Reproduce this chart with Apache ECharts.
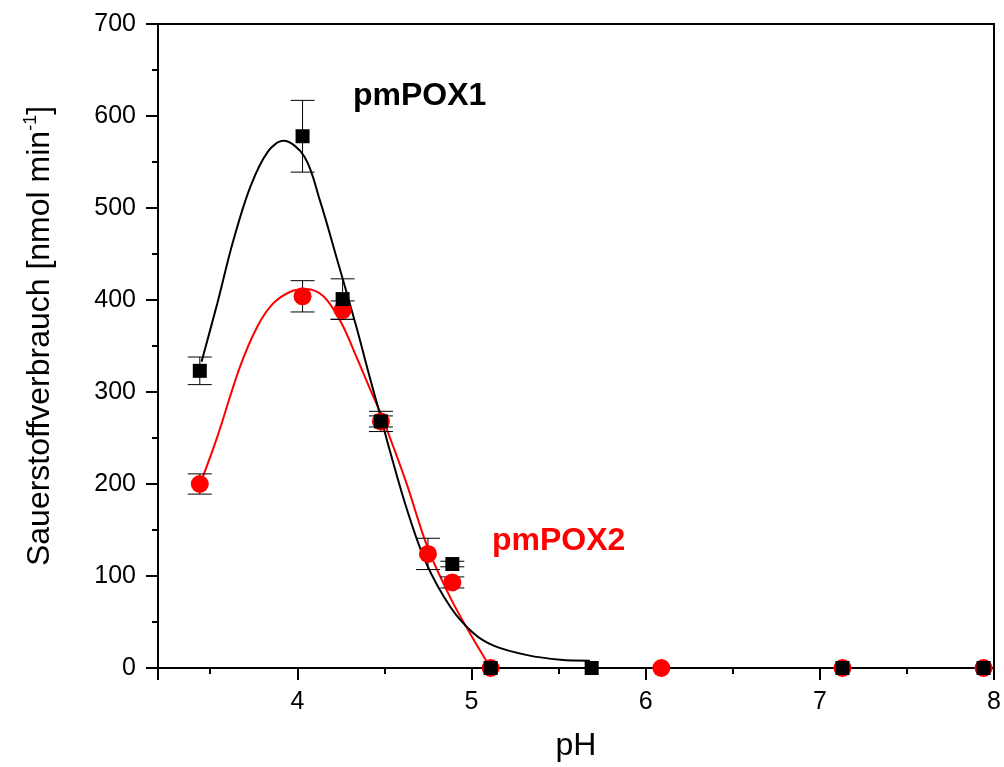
<!DOCTYPE html>
<html>
<head>
<meta charset="utf-8">
<title>pmPOX pH</title>
<script src="https://cdn.jsdelivr.net/npm/echarts@6/dist/echarts.min.js"></script>
<style>
  html, body { margin: 0; padding: 0; background: #fff; }
  #chart { width: 1004px; height: 767px; }
</style>
</head>
<body>
<div id="chart"></div>
<script>
// measured points (pH, Sauerstoffverbrauch, error)
const phPox1 = [3.44, 4.03, 4.26, 4.48, 4.89, 5.11, 5.69, 7.13, 7.94]
const o2Pox1 = [323, 578, 401, 268, 113, 0, 0, 0, 0]
const errPox1 = [15, 39, 22, 11, 3, 0, 0, 0, 0]

const phPox2 = [3.44, 4.03, 4.26, 4.48, 4.75, 4.89, 5.11, 6.09, 7.13, 7.94]
const o2Pox2 = [200, 404, 389, 268, 124, 93, 0, 0, 0, 0]
const errPox2 = [11, 17, 10, 6, 17, 6, 0, 0, 0, 0]

// fit curves
const fitPhPox1 = [3.45, 3.54, 3.63, 3.73, 3.83, 3.92, 4.04, 4.13, 4.23, 4.34, 4.41, 4.48, 4.53, 4.63, 4.74, 4.88, 5.01, 5.13, 5.32, 5.51, 5.68]
const fitPox1 = [333, 396, 463, 523, 561, 573, 556, 508, 443, 370, 320, 272, 237, 172, 114, 66, 38, 24, 14, 9, 8]

const fitPhPox2 = [3.45, 3.54, 3.67, 3.77, 3.86, 3.96, 4.05, 4.15, 4.25, 4.34, 4.42, 4.48, 4.56, 4.63, 4.75, 4.88, 4.99, 5.11]
const fitPox2 = [204, 251, 327, 371, 396, 409, 412, 404, 376, 338, 302, 276, 236, 199, 130, 76, 38, 0]

const yTicks = [0, 100, 200, 300, 400, 500, 600, 700]

const font = 'Liberation Sans, Arial, sans-serif'

function pairs(xs, ys) {
  return xs.map((x, i) => [x, ys[i]])
}

function errItems(xs, ys, es) {
  return xs.map((x, i) => [x, ys[i], es[i]]).filter(d => d[2] > 0)
}

function renderErr(params, api) {
  const x = api.value(0)
  const y = api.value(1)
  const e = api.value(2)
  const top = api.coord([x, y + e])
  const bot = api.coord([x, y - e])
  const half = 12
  const style = { stroke: '#000', lineWidth: 1 }
  return {
    type: 'group',
    children: [
      { type: 'line', shape: { x1: top[0], y1: top[1], x2: bot[0], y2: bot[1] }, style },
      { type: 'line', shape: { x1: top[0] - half, y1: top[1], x2: top[0] + half, y2: top[1] }, style },
      { type: 'line', shape: { x1: bot[0] - half, y1: bot[1], x2: bot[0] + half, y2: bot[1] }, style }
    ]
  }
}

const option = {
  animation: false,
  grid: {
    left: 158,
    right: 10,
    top: 24,
    bottom: 99,
    show: true,
    borderColor: '#000',
    borderWidth: 2
  },
  xAxis: {
    type: 'value',
    min: 3.2,
    max: 8,
    splitNumber: 5,
    minInterval: 1,
    maxInterval: 1,
    name: 'pH',
    nameLocation: 'middle',
    nameGap: 62,
    nameTextStyle: { fontFamily: font, fontSize: 32, color: '#000' },
    axisLine: { lineStyle: { color: '#000', width: 2 } },
    axisTick: { length: 12, lineStyle: { width: 2, color: '#000' } },
    minorTick: { show: true, splitNumber: 2, length: 6, lineStyle: { width: 2, color: '#000' } },
    splitLine: { show: false },
    axisLabel: {
      margin: 22,
      fontFamily: font,
      fontSize: 25,
      color: '#000',
      showMinLabel: false,
      formatter: v => (Number.isInteger(v) ? String(v) : '')
    }
  },
  yAxis: {
    type: 'value',
    min: yTicks[0],
    max: yTicks[yTicks.length - 1],
    interval: 100,
    name: 'Sauerstoffverbrauch [nmol min{sup|-1}]',
    nameLocation: 'middle',
    nameGap: 100,
    nameTextStyle: {
      fontFamily: font,
      fontSize: 32,
      color: '#000',
      padding: [0, 0, 0, 20],
      rich: {
        sup: { fontFamily: font, fontSize: 18, color: '#000', verticalAlign: 'top', lineHeight: 36 }
      }
    },
    axisLine: { lineStyle: { color: '#000', width: 2 } },
    axisTick: { length: 12, lineStyle: { width: 2, color: '#000' } },
    minorTick: { show: true, splitNumber: 2, length: 6, lineStyle: { width: 2, color: '#000' } },
    splitLine: { show: false },
    axisLabel: { margin: 22, fontFamily: font, fontSize: 25, color: '#000' }
  },
  graphic: [
    {
      type: 'text',
      left: 353,
      top: 80,
      style: { text: 'pmPOX1', fill: '#000', font: 'bold 32px ' + font }
    },
    {
      type: 'text',
      left: 492,
      top: 525,
      style: { text: 'pmPOX2', fill: '#ff0000', font: 'bold 32px ' + font }
    }
  ],
  series: [
    {
      name: 'fit pmPOX2',
      type: 'line',
      data: pairs(fitPhPox2, fitPox2),
      smooth: 0.35,
      showSymbol: false,
      lineStyle: { color: '#ff0000', width: 2 },
      z: 2
    },
    {
      name: 'fit pmPOX1',
      type: 'line',
      data: pairs(fitPhPox1, fitPox1),
      smooth: 0.35,
      showSymbol: false,
      lineStyle: { color: '#000', width: 2 },
      z: 2
    },
    {
      name: 'err pmPOX2',
      type: 'custom',
      renderItem: renderErr,
      data: errItems(phPox2, o2Pox2, errPox2),
      z: 3
    },
    {
      name: 'err pmPOX1',
      type: 'custom',
      renderItem: renderErr,
      data: errItems(phPox1, o2Pox1, errPox1),
      z: 3
    },
    {
      name: 'pmPOX2',
      type: 'scatter',
      data: pairs(phPox2, o2Pox2),
      symbol: 'circle',
      symbolSize: 18,
      itemStyle: { color: '#ff0000', opacity: 1 },
      z: 4
    },
    {
      name: 'pmPOX1',
      type: 'scatter',
      data: pairs(phPox1, o2Pox1),
      symbol: 'rect',
      symbolSize: 14,
      itemStyle: { color: '#000', opacity: 1 },
      z: 5
    }
  ]
}

const myChart = echarts.init(document.getElementById('chart'))
myChart.setOption(option)
</script>
</body>
</html>
